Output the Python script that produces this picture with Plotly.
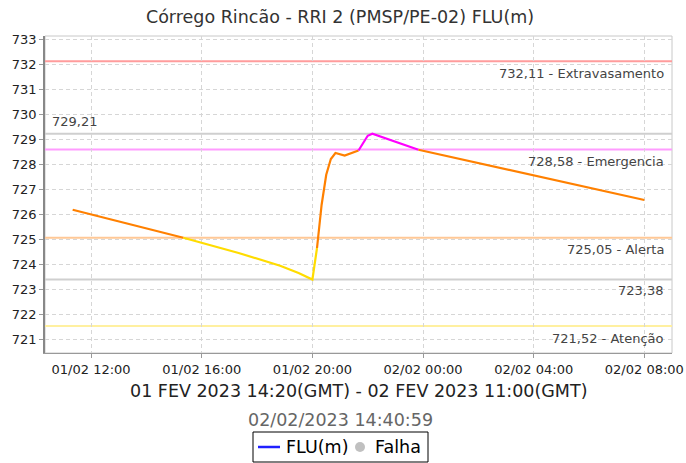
import plotly.graph_objects as go

# ---------------- data ----------------
times = ["2023-02-01 11:20", "2023-02-01 15:20", "2023-02-01 17:20", "2023-02-01 18:50",
         "2023-02-01 19:30", "2023-02-01 20:00", "2023-02-01 20:10", "2023-02-01 20:20",
         "2023-02-01 20:30", "2023-02-01 20:40", "2023-02-01 20:50", "2023-02-01 21:10",
         "2023-02-01 21:40", "2023-02-01 22:00", "2023-02-01 22:10", "2023-02-01 23:50",
         "2023-02-02 02:00", "2023-02-02 05:40", "2023-02-02 08:00"]
values = [726.17, 725.05, 724.44, 723.93,
          723.64, 723.38, 724.64, 726.37,
          727.57, 728.20, 728.44, 728.34,
          728.54, 729.13, 729.21, 728.57,
          728.04, 727.16, 726.56]

threshold_names = ["Extravasamento", "Emergencia", "Alerta", "Atenção"]
threshold_values = [732.11, 728.58, 725.05, 721.52]
threshold_colors = ["#FF9C9C", "#FF9CFF", "#FFC896", "#FFF0A0"]
level_colors = ["#FF00FF", "#FF8000", "#FFDC00"]  # above Emergencia, above Alerta, above Atenção

max_value = 729.21
min_value = 723.38

title = "Córrego Rincão - RRI 2 (PMSP/PE-02) FLU(m)"
subtitle = "01 FEV 2023 14:20(GMT) - 02 FEV 2023 11:00(GMT)"
timestamp = "02/02/2023 14:40:59"
legend_labels = ["FLU(m)", "Falha"]

x_range = ["2023-02-01 10:20", "2023-02-02 09:00"]
y_range = [720.44, 733.12]

# ---------------- layout geometry ----------------
W, H = 686, 463
ML, MR, MT, MB = 45, 14, 36, 110
PW, PH = W - ML - MR, H - MT - MB
FONT = "DejaVu Sans"


def px(x):
    return (x - ML) / PW


def py(y):
    return (H - MB - y) / PH


def level_color(v):
    if v > threshold_values[1]:
        return level_colors[0]
    if v > threshold_values[2]:
        return level_colors[1]
    return level_colors[2]


fig = go.Figure()

# coloured segments
segs = []
for i in range(len(values) - 1):
    c = level_color(max(values[i], values[i + 1]))
    if segs and segs[-1][0] == c:
        segs[-1][1].append(i + 1)
    else:
        segs.append([c, [i, i + 1]])
for c, idx in segs:
    fig.add_trace(go.Scatter(
        x=[times[j] for j in idx], y=[values[j] for j in idx],
        mode="lines", line=dict(color=c, width=2.2),
        showlegend=False, hoverinfo="skip"))

shapes = []
annotations = []

# frame
shapes.append(dict(type="rect", xref="paper", yref="paper", x0=0, x1=1, y0=0, y1=1,
                   line=dict(color="#C8C8C8", width=1), layer="below"))

# threshold lines + labels
for name, v, col in zip(threshold_names, threshold_values, threshold_colors):
    shapes.append(dict(type="line", xref="paper", x0=0, x1=1, yref="y", y0=v, y1=v,
                       line=dict(color=col, width=2), layer="between"))
    annotations.append(dict(xref="paper", x=1, xshift=-6, xanchor="right",
                            yref="y", y=v, yshift=-12, yanchor="middle",
                            text=f"{v:.2f}".replace(".", ",") + " - " + name,
                            showarrow=False, font=dict(family=FONT, size=13, color="#444")))

# max / min lines
for v in (max_value, min_value):
    shapes.append(dict(type="line", xref="paper", x0=0, x1=1, yref="y", y0=v, y1=v,
                       line=dict(color="#CFCFCF", width=2), layer="between"))
annotations.append(dict(xref="paper", x=0, xshift=5, xanchor="left", yref="y", y=max_value,
                        yshift=12, yanchor="middle", text=f"{max_value:.2f}".replace(".", ","),
                        showarrow=False, font=dict(family=FONT, size=13, color="#444")))
annotations.append(dict(xref="paper", x=1, xshift=-6, xanchor="right", yref="y", y=min_value,
                        yshift=-11, yanchor="middle", text=f"{min_value:.2f}".replace(".", ","),
                        showarrow=False, font=dict(family=FONT, size=13, color="#444")))

# subtitle and timestamp
annotations.append(dict(xref="paper", x=0.5, xanchor="center", yref="paper", y=py(391),
                        yanchor="middle", text=subtitle, showarrow=False,
                        font=dict(family=FONT, size=17.5, color="#222")))
annotations.append(dict(xref="paper", x=px(340), xanchor="center", yref="paper", y=py(420),
                        yanchor="middle", text=timestamp, showarrow=False,
                        font=dict(family=FONT, size=17.5, color="#666")))

# legend (drawn manually)
shapes.append(dict(type="rect", xref="paper", yref="paper", x0=px(253), x1=px(428),
                   y0=py(462), y1=py(432), line=dict(color="#000", width=1),
                   fillcolor="white", layer="above"))
shapes.append(dict(type="line", xref="paper", yref="paper", x0=px(258), x1=px(280),
                   y0=py(447), y1=py(447), line=dict(color="#2020FF", width=2.5), layer="above"))
shapes.append(dict(type="circle", xref="paper", yref="paper", x0=px(355), x1=px(365),
                   y0=py(452), y1=py(442), line=dict(color="#C0C0C0", width=0),
                   fillcolor="#C0C0C0", layer="above"))
annotations.append(dict(xref="paper", x=px(284), xanchor="left", yref="paper", y=py(447),
                        yanchor="middle", text=legend_labels[0], showarrow=False,
                        font=dict(family=FONT, size=17.5, color="#000")))
annotations.append(dict(xref="paper", x=px(373), xanchor="left", yref="paper", y=py(447),
                        yanchor="middle", text=legend_labels[1], showarrow=False,
                        font=dict(family=FONT, size=17.5, color="#000")))

fig.update_layout(
    width=W, height=H,
    margin=dict(l=ML, r=MR, t=MT, b=MB, pad=0, autoexpand=False),
    paper_bgcolor="white", plot_bgcolor="white",
    font=dict(family=FONT, size=13, color="#333"),
    title=dict(text=title, xref="container", x=340 / W, xanchor="center",
               yref="container", y=1 - 17 / H, yanchor="middle",
               font=dict(family=FONT, size=17.5, color="#333")),
    showlegend=False,
    shapes=shapes, annotations=annotations,
    xaxis=dict(type="date", range=x_range, tick0="2023-02-01 00:00", dtick=4 * 3600 * 1000,
               tickformat="%d/%m %H:%M", showgrid=True, gridcolor="#D6D6D6", griddash="4px,3px",
               gridwidth=1, zeroline=False, showline=True, linecolor="#999", linewidth=1,
               ticks="outside", ticklen=4, tickcolor="#999", automargin=False,
               tickfont=dict(family=FONT, size=13, color="#222")),
    yaxis=dict(range=y_range, tick0=721, dtick=1, showgrid=True, gridcolor="#D6D6D6",
               griddash="4px,3px", gridwidth=1, zeroline=False, showline=True,
               linecolor="#888", linewidth=1.5, ticks="outside", ticklen=4, tickcolor="#999",
               automargin=False, tickfont=dict(family=FONT, size=13, color="#222")),
)

fig.write_html("out.html", config={"displayModeBar": False},
               post_script="document.body.style.margin='0';document.body.style.overflow='hidden';")
